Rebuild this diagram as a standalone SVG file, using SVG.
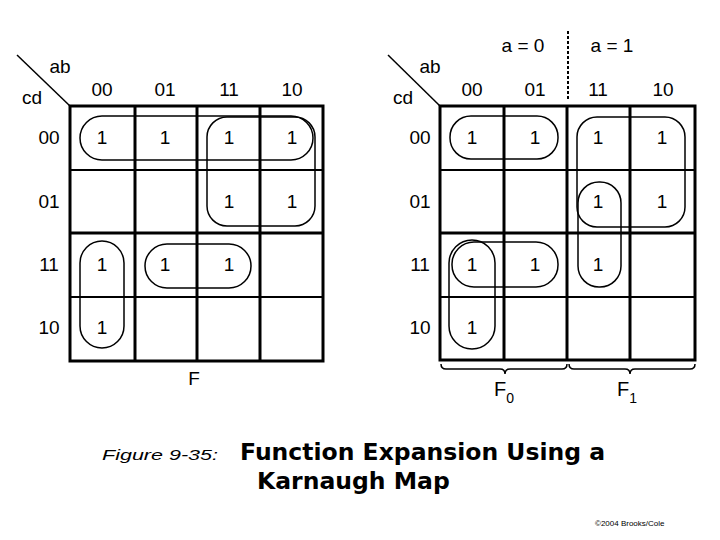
<svg xmlns="http://www.w3.org/2000/svg" width="720" height="540" viewBox="0 0 720 540">
<style>
text{font-family:"Liberation Sans",Arial,sans-serif;fill:#000}
.lb{font-size:19px;text-anchor:middle}
.one{font-size:19px;text-anchor:middle}
.g{fill:none;stroke:#000}
.thick{stroke-width:3}
.thin{stroke-width:2}
.loop{fill:none;stroke:#000;stroke-width:1.5}
.cap{font-family:"DejaVu Sans",Verdana,sans-serif;font-weight:bold;font-size:23.5px}
</style>
<rect width="720" height="540" fill="#fff"/>

<g id="mapF">
  <line x1="17" y1="55" x2="70" y2="106" stroke="#000" stroke-width="1.5"/>
  <text x="60" y="73" class="lb">ab</text>
  <text x="32" y="104" class="lb">cd</text>
  <text x="102" y="96" class="lb">00</text>
  <text x="165" y="96" class="lb">01</text>
  <text x="229" y="96" class="lb">11</text>
  <text x="292" y="96" class="lb">10</text>
  <text x="49" y="144" class="lb">00</text>
  <text x="49" y="208" class="lb">01</text>
  <text x="49" y="271" class="lb">11</text>
  <text x="49" y="334" class="lb">10</text>
  <rect x="70" y="106" width="253" height="255" class="g thick"/>
  <line x1="135" y1="106" x2="135" y2="361" class="g thick"/>
  <line x1="197" y1="106" x2="197" y2="361" class="g thick"/>
  <line x1="260" y1="106" x2="260" y2="361" class="g thick"/>
  <line x1="70" y1="170" x2="323" y2="170" class="g thin"/>
  <line x1="70" y1="233" x2="323" y2="233" class="g thick"/>
  <line x1="70" y1="297" x2="323" y2="297" class="g thin"/>
  <text x="102" y="144" class="one">1</text>
  <text x="165" y="144" class="one">1</text>
  <text x="229" y="144" class="one">1</text>
  <text x="292" y="144" class="one">1</text>
  <text x="229" y="208" class="one">1</text>
  <text x="292" y="208" class="one">1</text>
  <text x="102" y="271" class="one">1</text>
  <text x="165" y="271" class="one">1</text>
  <text x="229" y="271" class="one">1</text>
  <text x="102" y="334" class="one">1</text>
  <rect x="80" y="116" width="233" height="44" rx="22" class="loop"/>
  <rect x="207" y="117" width="108" height="109" rx="20" class="loop"/>
  <rect x="80" y="241" width="44" height="107" rx="22" class="loop"/>
  <rect x="145" y="244" width="106" height="44" rx="22" class="loop"/>
  <text x="194" y="385" class="lb">F</text>
</g>

<g id="mapF01">
  <line x1="388" y1="55" x2="440" y2="106" stroke="#000" stroke-width="1.5"/>
  <text x="430" y="73" class="lb">ab</text>
  <text x="403" y="104" class="lb">cd</text>
  <text x="523" y="52" class="lb" font-size="20px">a = 0</text>
  <text x="612" y="52" class="lb" font-size="20px">a = 1</text>
  <line x1="568" y1="31" x2="568" y2="100" stroke="#000" stroke-width="2" stroke-dasharray="3,2"/>
  <text x="472" y="96" class="lb">00</text>
  <text x="535" y="96" class="lb">01</text>
  <text x="598" y="96" class="lb">11</text>
  <text x="663" y="96" class="lb">10</text>
  <text x="420" y="144" class="lb">00</text>
  <text x="420" y="208" class="lb">01</text>
  <text x="420" y="271" class="lb">11</text>
  <text x="420" y="334" class="lb">10</text>
  <rect x="440" y="106" width="255" height="254" class="g thick"/>
  <line x1="504" y1="106" x2="504" y2="360" class="g thick"/>
  <line x1="567" y1="106" x2="567" y2="360" class="g thick"/>
  <line x1="630" y1="106" x2="630" y2="360" class="g thick"/>
  <line x1="440" y1="170" x2="695" y2="170" class="g thin"/>
  <line x1="440" y1="233" x2="695" y2="233" class="g thick"/>
  <line x1="440" y1="297" x2="695" y2="297" class="g thin"/>
  <text x="472" y="144" class="one">1</text>
  <text x="535" y="144" class="one">1</text>
  <text x="598" y="144" class="one">1</text>
  <text x="662" y="144" class="one">1</text>
  <text x="598" y="208" class="one">1</text>
  <text x="662" y="208" class="one">1</text>
  <text x="472" y="271" class="one">1</text>
  <text x="535" y="271" class="one">1</text>
  <text x="598" y="271" class="one">1</text>
  <text x="472" y="334" class="one">1</text>
  <rect x="450" y="116" width="108" height="43" rx="21" class="loop"/>
  <rect x="577" y="117" width="108" height="110" rx="20" class="loop"/>
  <rect x="578" y="182" width="43" height="105" rx="21" class="loop"/>
  <rect x="452" y="242" width="106" height="45" rx="22" class="loop"/>
  <rect x="449" y="240" width="46" height="109" rx="23" class="loop"/>
  <path d="M441,364 q0,5 5,5 h54 q5,0 5,5 q0,-5 5,-5 h52 q5,0 5,-5" fill="none" stroke="#000" stroke-width="1.5"/>
  <path d="M569,364 q0,5 5,5 h51 q5,0 5,5 q0,-5 5,-5 h55 q5,0 5,-5" fill="none" stroke="#000" stroke-width="1.5"/>
  <text x="494" y="396" font-size="20px">F<tspan font-size="14px" dy="7">0</tspan></text>
  <text x="617" y="396" font-size="20px">F<tspan font-size="14px" dy="7">1</tspan></text>
</g>

<g id="caption">
  <text x="102" y="460" font-family="DejaVu Sans,Verdana,sans-serif" font-style="italic" font-size="15px" textLength="116" lengthAdjust="spacingAndGlyphs">Figure 9-35:</text>
  <text x="240" y="460" class="cap">Function Expansion Using a</text>
  <text x="257" y="489" class="cap">Karnaugh Map</text>
  <text x="595" y="526" font-size="8px">©2004 Brooks/Cole</text>
</g>
</svg>
